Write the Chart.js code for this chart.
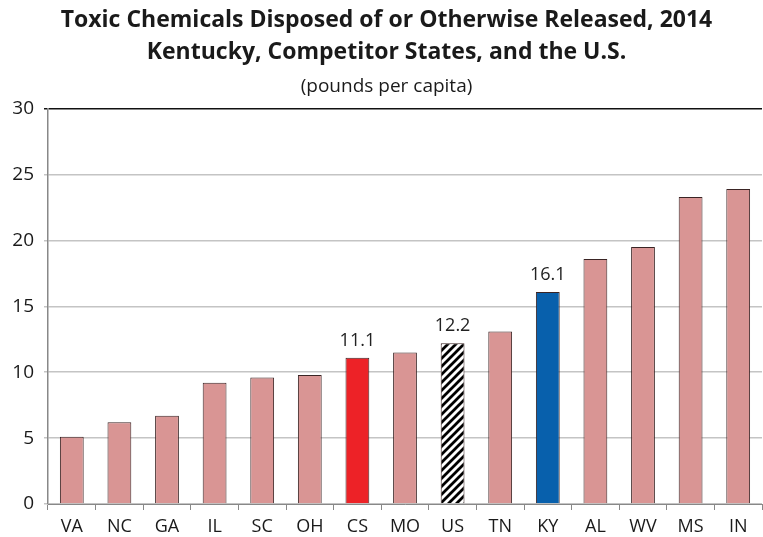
<!DOCTYPE html>
<html>
<head>
<meta charset="utf-8">
<script src="https://cdn.jsdelivr.net/npm/chart.js@4"></script>
<style>
  html, body { margin: 0; padding: 0; background: #fff; }
  #wrap { width: 763px; height: 537px; }
</style>
</head>
<body>
<div id="wrap"><canvas id="chart" width="763" height="537"></canvas></div>
<script>
const states = ['VA', 'NC', 'GA', 'IL', 'SC', 'OH', 'CS', 'MO', 'US', 'TN', 'KY', 'AL', 'WV', 'MS', 'IN'];
const perCapita = [5.1, 6.2, 6.7, 9.2, 9.6, 9.8, 11.1, 11.5, 12.2, 13.1, 16.1, 18.6, 19.5, 23.3, 23.9];
const labelled = ['CS', 'US', 'KY'];
const yTicks = [0, 5, 10, 15, 20, 25, 30];

const font = "'Open Sans', 'Noto Sans', sans-serif";

// diagonal stripes for the U.S. bar
function stripes() {
  const c = document.createElement('canvas');
  c.width = 8; c.height = 8;
  const g = c.getContext('2d');
  g.fillStyle = '#fff';
  g.fillRect(0, 0, 8, 8);
  g.strokeStyle = '#000';
  g.lineWidth = 2.8;
  g.beginPath();
  g.moveTo(-2, 10); g.lineTo(10, -2);
  g.moveTo(-6, 6); g.lineTo(6, -6);
  g.moveTo(2, 14); g.lineTo(14, 2);
  g.stroke();
  return g.createPattern(c, 'repeat');
}

const colors = states.map(s => {
  if (s === 'CS') return '#ED2227';
  if (s === 'KY') return '#0860AC';
  if (s === 'US') return stripes();
  return '#D99594';
});

const valueLabels = {
  id: 'valueLabels',
  afterDatasetsDraw(chart) {
    const ctx = chart.ctx;
    const meta = chart.getDatasetMeta(0);
    ctx.save();
    ctx.font = '18px ' + font;
    ctx.fillStyle = '#222';
    ctx.textAlign = 'center';
    ctx.textBaseline = 'bottom';
    meta.data.forEach((bar, i) => {
      if (labelled.includes(states[i])) {
        ctx.fillText(perCapita[i].toFixed(1), bar.x, bar.y - 8);
      }
    });
    ctx.restore();
  }
};

new Chart(document.getElementById('chart'), {
  type: 'bar',
  data: {
    labels: states,
    datasets: [{
      data: perCapita,
      backgroundColor: colors,
      borderColor: '#3a2424',
      borderWidth: 1,
      borderSkipped: 'bottom',
      barPercentage: 0.5,
      categoryPercentage: 1
    }]
  },
  options: {
    responsive: false,
    animation: false,
    layout: { padding: { left: 11, right: 1, top: 4, bottom: 2 } },
    plugins: {
      legend: { display: false },
      tooltip: { enabled: false },
      title: {
        display: true,
        text: ['Toxic Chemicals Disposed of or Otherwise Released, 2014', 'Kentucky, Competitor States, and the U.S.'],
        color: '#1a1a1a',
        font: { family: font, size: 23, weight: 'bold', lineHeight: 1.39 },
        padding: { top: 0, bottom: 7 }
      },
      subtitle: {
        display: true,
        text: '(pounds per capita)',
        color: '#1a1a1a',
        font: { family: font, size: 19 },
        padding: { top: 0, bottom: 11 }
      }
    },
    scales: {
      x: {
        offset: true,
        afterFit: scale => { scale.height = 31; },
        grid: {
          offset: true,
          drawOnChartArea: false,
          color: '#888',
          tickLength: 6
        },
        border: { color: '#888' },
        ticks: { color: '#1a1a1a', font: { family: font, size: 18 }, padding: 6 }
      },
      y: {
        min: 0,
        max: 30,
        afterBuildTicks: scale => { scale.ticks = yTicks.map(v => ({ value: v })); },
        afterFit: scale => { scale.width = 37; },
        grid: {
          color: ctx => ctx.tick && ctx.tick.value === 30 ? '#111' : '#c4c4c4',
          lineWidth: 1.5,
          tickLength: 4
        },
        border: { color: '#888', width: 1.5 },
        ticks: { color: '#1a1a1a', font: { family: font, size: 19 }, padding: 10 }
      }
    }
  },
  plugins: [valueLabels]
});
</script>
</body>
</html>
